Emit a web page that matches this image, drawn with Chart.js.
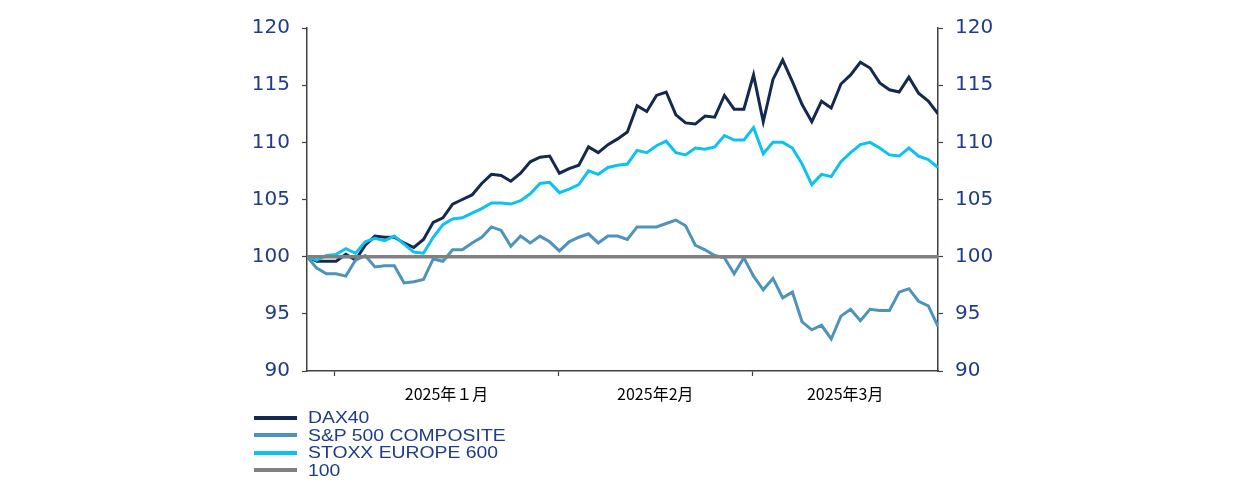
<!DOCTYPE html>
<html>
<head>
<meta charset="utf-8">
<script src="https://cdn.jsdelivr.net/npm/chart.js@4"></script>
<style>
  html, body { margin: 0; padding: 0; background: #ffffff; }
  #wrap { position: relative; width: 1234px; height: 485px; overflow: hidden; }
  #chart { position: absolute; left: 0; top: 0; }
  #legend { position: absolute; left: 254px; top: 409px; margin: 0; padding: 0; list-style: none; }
  #legend li { height: 17.5px; display: flex; align-items: center; white-space: nowrap; }
  #legend .swatch { width: 43px; height: 4px; margin-right: 11px; flex: none; }
  #legend .txt { font-family: "Liberation Sans", Arial, sans-serif; font-size: 16px; color: #1f3c88;
                 display: inline-block; transform: scaleX(1.21); transform-origin: left center; line-height: 17px; }
</style>
</head>
<body>
<div id="wrap">
  <canvas id="chart" width="1234" height="485"></canvas>
  <ul id="legend"></ul>
</div>
<script>
// ---- data ----
const dates = [
  '2024-12-27','2024-12-30','2024-12-31',
  '2025-01-01','2025-01-02','2025-01-03','2025-01-06','2025-01-07','2025-01-08','2025-01-09','2025-01-10',
  '2025-01-13','2025-01-14','2025-01-15','2025-01-16','2025-01-17','2025-01-20','2025-01-21','2025-01-22',
  '2025-01-23','2025-01-24','2025-01-27','2025-01-28','2025-01-29','2025-01-30','2025-01-31',
  '2025-02-03','2025-02-04','2025-02-05','2025-02-06','2025-02-07','2025-02-10','2025-02-11','2025-02-12',
  '2025-02-13','2025-02-14','2025-02-17','2025-02-18','2025-02-19','2025-02-20','2025-02-21','2025-02-24',
  '2025-02-25','2025-02-26','2025-02-27','2025-02-28',
  '2025-03-03','2025-03-04','2025-03-05','2025-03-06','2025-03-07','2025-03-10','2025-03-11','2025-03-12',
  '2025-03-13','2025-03-14','2025-03-17','2025-03-18','2025-03-19','2025-03-20','2025-03-21','2025-03-24',
  '2025-03-25','2025-03-26','2025-03-27','2025-03-28'
];
const monthKeys = ['2025-01','2025-02','2025-03'];
const monthLabels = ['2025年１月','2025年2月','2025年3月'];

const dax40 = [
  100.0, 99.6, 99.6, 99.6, 100.2, 99.7, 101.0, 101.8, 101.7, 101.7,
  101.2, 100.8, 101.5, 103.0, 103.4, 104.6, 105.0, 105.4, 106.4, 107.2,
  107.1, 106.6, 107.3, 108.3, 108.7, 108.8, 107.3, 107.7, 108.0, 109.6,
  109.1, 109.8, 110.3, 110.9, 113.2, 112.7, 114.1, 114.4, 112.4, 111.7,
  111.6, 112.3, 112.2, 114.1, 112.9, 112.9, 115.9, 111.8, 115.5, 117.2,
  115.3, 113.3, 111.8, 113.6, 113.0, 115.1, 115.9, 117.0, 116.5, 115.2,
  114.6, 114.4, 115.7, 114.3, 113.6, 112.5
];
const sp500 = [
  100.0, 99.0, 98.5, 98.5, 98.3, 99.7, 100.1, 99.1, 99.2, 99.2,
  97.7, 97.8, 98.0, 99.8, 99.6, 100.6, 100.6, 101.2, 101.7, 102.6,
  102.3, 100.9, 101.8, 101.2, 101.8, 101.3, 100.5, 101.3, 101.7, 102.0,
  101.2, 101.8, 101.8, 101.5, 102.6, 102.6, 102.6, 102.9, 103.2, 102.7,
  101.0, 100.6, 100.1, 99.9, 98.5, 99.9, 98.3, 97.1, 98.1, 96.4,
  96.9, 94.3, 93.6, 94.0, 92.8, 94.8, 95.4, 94.4, 95.4, 95.3,
  95.3, 96.9, 97.2, 96.1, 95.7, 93.9
];
const stoxx600 = [
  100.0, 99.7, 100.1, 100.2, 100.7, 100.3, 101.3, 101.6, 101.4, 101.8,
  101.1, 100.4, 100.3, 101.7, 102.8, 103.3, 103.4, 103.8, 104.2, 104.7,
  104.7, 104.6, 104.9, 105.5, 106.4, 106.5, 105.6, 105.9, 106.3, 107.5,
  107.2, 107.8, 108.0, 108.1, 109.3, 109.1, 109.7, 110.1, 109.1, 108.9,
  109.5, 109.4, 109.6, 110.6, 110.2, 110.2, 111.3, 109.0, 110.0, 110.0,
  109.5, 108.1, 106.3, 107.2, 107.0, 108.3, 109.1, 109.8, 110.0, 109.5,
  108.9, 108.8, 109.5, 108.8, 108.5, 107.8
];
const refLevel = 100;
const yTicks = [90, 95, 100, 105, 110, 115, 120];

// ---- derived helpers ----
const toPoints = arr => arr.map((v, i) => ({ x: i, y: v }));
const lastIdx = dates.length - 1;
const monthStart = monthKeys.map(k => dates.findIndex(d => d.startsWith(k)));
const boundaries = monthStart.map(i => i - 0.12);
const centers = boundaries.map((b, j) => (b + (j + 1 < boundaries.length ? boundaries[j + 1] : lastIdx)) / 2);
const xTickList = [];
boundaries.forEach((b, j) => { xTickList.push({ value: b, kind: 'b' }); xTickList.push({ value: centers[j], kind: 'c', label: monthLabels[j] }); });

const AXIS = '#404040';
const TXT = '#1f3c88';

const datasets = [
  { label: 'DAX40', data: toPoints(dax40), borderColor: '#14294f', borderWidth: 3, order: 3 },
  { label: 'S&P 500 COMPOSITE', data: toPoints(sp500), borderColor: '#4d93bb', borderWidth: 3, order: 2 },
  { label: 'STOXX EUROPE 600', data: toPoints(stoxx600), borderColor: '#0cc2f2', borderWidth: 3, order: 1 },
  { label: '100', data: dates.map((d, i) => ({ x: i, y: refLevel })), borderColor: '#808080', borderWidth: 3.5, order: 0 }
];
datasets.forEach(ds => { ds.pointRadius = 0; ds.tension = 0; ds.fill = false; ds.backgroundColor = ds.borderColor; ds.borderJoinStyle = 'miter'; });

const yAxisCommon = (pos, width) => ({
  type: 'linear', position: pos, min: 90, max: 120,
  afterBuildTicks: s => { s.ticks = yTicks.map(v => ({ value: v })); },
  afterFit: s => { s.width = width; },
  grid: { drawOnChartArea: false, drawTicks: true, tickLength: 5, tickColor: AXIS, tickWidth: 1.2 },
  border: { display: true, color: AXIS, width: 1.5 },
  ticks: { color: TXT, padding: 12, font: { family: 'DejaVu Sans', size: 20 } }
});

const chart = new Chart(document.getElementById('chart'), {
  type: 'line',
  data: { datasets },
  options: {
    responsive: false,
    devicePixelRatio: 1,
    animation: false,
    layout: { padding: { top: 28, left: 0, right: 0, bottom: 0 } },
    plugins: { legend: { display: false }, tooltip: { enabled: false } },
    scales: {
      x: {
        type: 'linear', min: 0, max: lastIdx,
        afterBuildTicks: s => { s.ticks = xTickList.map(t => ({ value: t.value })); },
        afterFit: s => { s.height = 114; },
        grid: {
          drawOnChartArea: false, drawTicks: true, tickLength: 5, tickWidth: 1.2,
          tickColor: ctx => (xTickList[ctx.index] && xTickList[ctx.index].kind === 'b') ? AXIS : 'rgba(0,0,0,0)'
        },
        border: { display: true, color: AXIS, width: 1.5 },
        ticks: {
          autoSkip: false, maxRotation: 0, minRotation: 0, padding: 8, color: '#000000',
          font: { family: '"Noto Sans CJK JP"', size: 16 },
          callback: (v, i) => xTickList[i] && xTickList[i].kind === 'c' ? xTickList[i].label : ''
        }
      },
      y: yAxisCommon('left', 307),
      y2: yAxisCommon('right', 296)
    }
  }
});

// ---- HTML legend built from datasets ----
const ul = document.getElementById('legend');
chart.data.datasets.forEach(ds => {
  const li = document.createElement('li');
  const sw = document.createElement('span');
  sw.className = 'swatch';
  sw.style.background = ds.borderColor;
  const t = document.createElement('span');
  t.className = 'txt';
  t.textContent = ds.label;
  li.appendChild(sw); li.appendChild(t);
  ul.appendChild(li);
});
</script>
</body>
</html>
